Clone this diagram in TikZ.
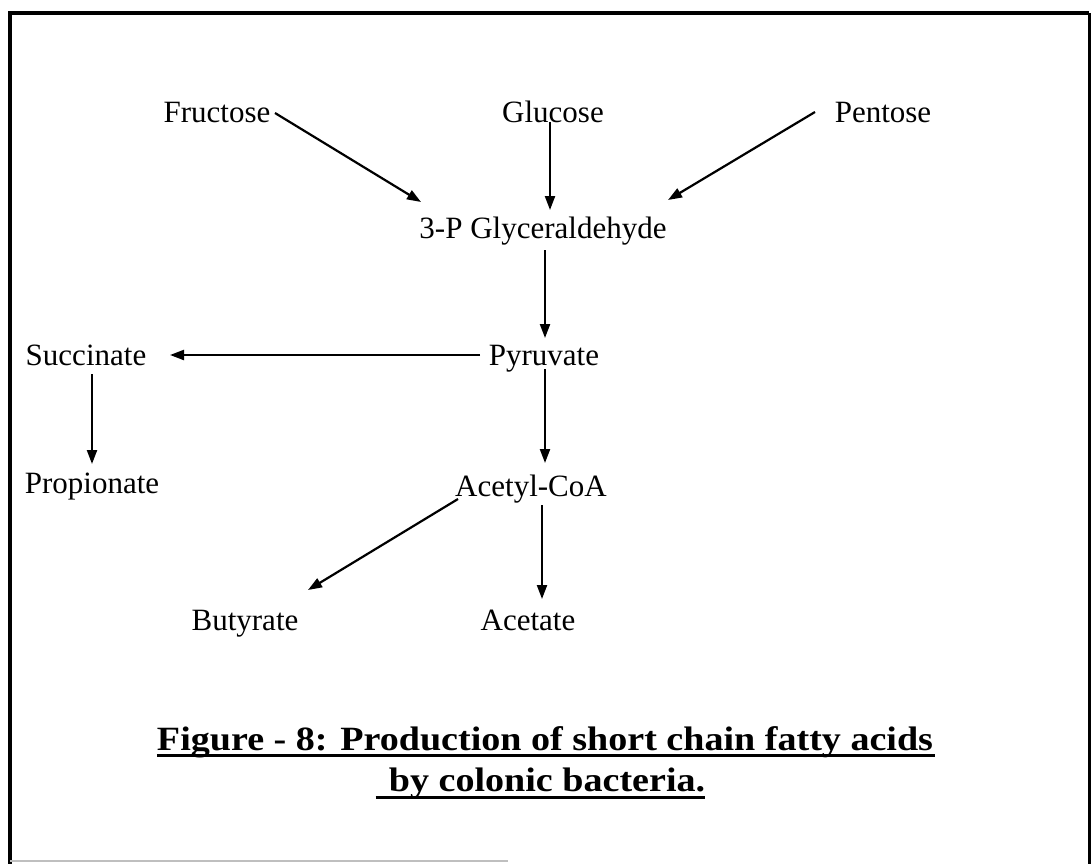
\documentclass[tikz,border=0pt]{standalone}
\usepackage{fontspec}
\setmainfont{Liberation Serif}
\usetikzlibrary{arrows.meta,calc}
\begin{document}
\begin{tikzpicture}[x=1pt,y=-1pt,
  lbl/.style={font=\fontsize{31}{34}\selectfont, inner sep=0pt, anchor=base},
  captxt/.style={font=\fontsize{34}{37}\selectfont\bfseries, inner sep=0pt, anchor=base},
  arr/.style={line width=2.2pt, -{Triangle[length=14pt,width=10pt]}},
  uline/.style={line width=3pt},
  framebox/.style={line width=4.5pt},
]
\useasboundingbox (0,0) rectangle (1092,864);
\fill[white] (0,0) rectangle (1092,864);
% frame
\draw[framebox] (10,866) -- (10,13) -- (1089,13);
\draw[line width=3pt] (1089,13) -- (1089,866);
\draw[gray!50, line width=1.5pt] (10,861) -- (508,861);

% nodes
\node[lbl] (fru) at (217,123) {Fructose};
\node[lbl] (glu) at (553,123) {Glucose};
\node[lbl] (pen) at (883,123) {Pentose};
\node[lbl] (gly) at (543,238) {3-P Glyceraldehyde};
\node[lbl] (pyr) at (544,365) {Pyruvate};
\node[lbl] (suc) at (86,365) {Succinate};
\node[lbl] (pro) at (92,493) {Propionate};
\node[lbl] (ace) at (531,496) {Acetyl-CoA};
\node[lbl] (but) at (245,630) {Butyrate};
\node[lbl] (act) at (528,630) {Acetate};

% arrows
\draw[arr] ($(fru.base)+(58,-10)$) -- ($(gly.base)+(-122,-36)$);
\draw[arr] ($(glu.base)+(-3,-1)$) -- ($(gly.base)+(7,-28)$);
\draw[arr] ($(pen.base)+(-68,-11)$) -- ($(gly.base)+(125,-38)$);
\draw[arr] ($(gly.base)+(2,12)$) -- ($(pyr.base)+(1,-27)$);
\draw[arr] ($(pyr.base)+(-64,-10)$) -- ($(suc.base)+(84,-10)$);
\draw[arr] ($(suc.base)+(6,9)$) -- ($(pro.base)+(0,-29)$);
\draw[arr] ($(pyr.base)+(1,4)$) -- ($(ace.base)+(14,-33)$);
\draw[arr] ($(ace.base)+(-73,3)$) -- ($(but.base)+(63,-40)$);
\draw[arr] ($(ace.base)+(11,9)$) -- ($(act.base)+(14,-31)$);

% caption
\node[captxt] (c1) at (545,750) {\scalebox{1.12}[1]{Figure - 8: Production of short chain fatty acids}};
\node[captxt] (c2) at (547,791) {\scalebox{1.12}[1]{by colonic bacteria.}};
\draw[uline] ($(c1.base west)+(0,5)$) -- ($(c1.base east)+(2,5)$);
\draw[uline] ($(c2.base west)+(-13,6)$) -- ($(c2.base east)+(0,6)$);
\end{tikzpicture}
\end{document}
